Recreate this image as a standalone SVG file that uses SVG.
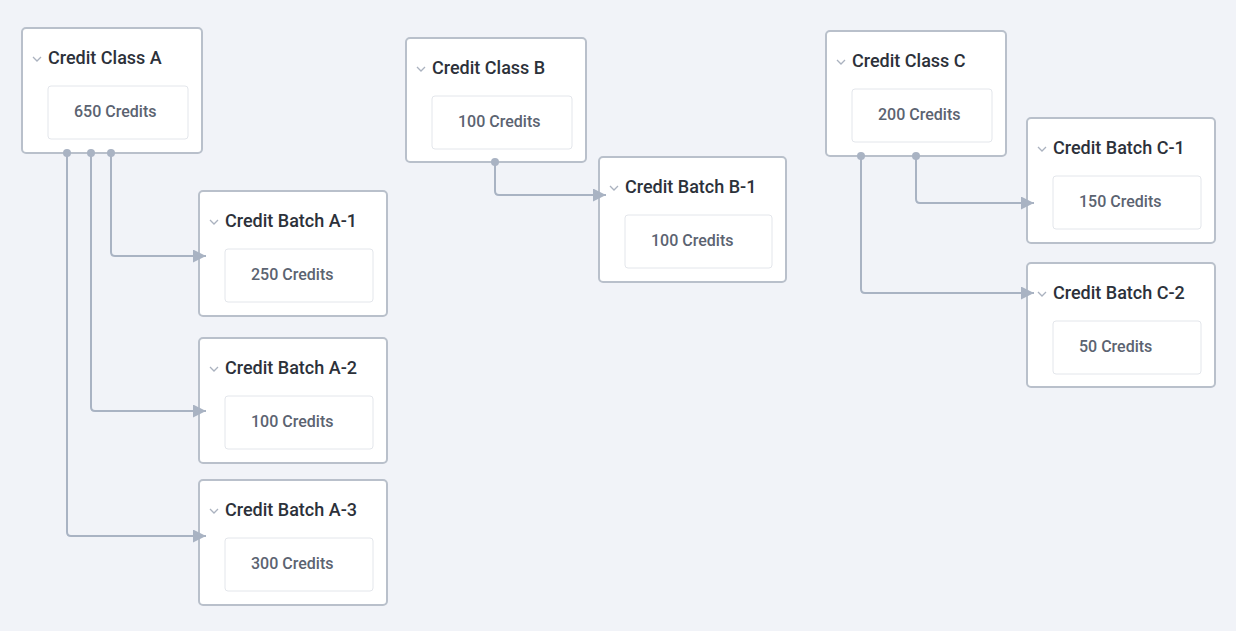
<svg xmlns="http://www.w3.org/2000/svg" width="1236" height="631" viewBox="0 0 1236 631">
<defs>
<style>
.card{fill:#ffffff;stroke:#b9c0cb;stroke-width:2}
.inner{fill:#ffffff;stroke:#e3e6eb;stroke-width:1}
.title{font-family:Roboto,"Liberation Sans",sans-serif;font-size:18px;font-weight:500;fill:#2c313a}
.val{font-family:Roboto,"Liberation Sans",sans-serif;font-size:16px;font-weight:500;fill:#5b6371}
.chev{fill:none;stroke:#aab2bf;stroke-width:1.3}
.edge{fill:none;stroke:#a9b3c3;stroke-width:2;stroke-linejoin:round}
.port{fill:#a9b3c3}
</style>
<marker id="arr" markerUnits="userSpaceOnUse" markerWidth="14" markerHeight="13" refX="13" refY="6.5" orient="auto">
<path d="M0,0 L13,6.5 L0,13 Z" fill="#a9b3c3"/>
</marker>
</defs>
<rect width="1236" height="631" fill="#f1f3f8"/>
<g id="class-a" transform="translate(22,28)">
<rect class="card" x="0" y="0" width="180" height="125" rx="4"/>
<polyline class="chev" points="11,29 15,33 19,29"/>
<text class="title" x="26" y="36">Credit Class A</text>
<rect class="inner" x="26" y="58" width="140" height="53" rx="3"/>
<text class="val" x="52" y="89">650 Credits</text>
</g>
<g id="batch-a1" transform="translate(199,191)">
<rect class="card" x="0" y="0" width="188" height="125" rx="4"/>
<polyline class="chev" points="11,29 15,33 19,29"/>
<text class="title" x="26" y="36">Credit Batch A-1</text>
<rect class="inner" x="26" y="58" width="148" height="53" rx="3"/>
<text class="val" x="52" y="89">250 Credits</text>
</g>
<g id="batch-a2" transform="translate(199,338)">
<rect class="card" x="0" y="0" width="188" height="125" rx="4"/>
<polyline class="chev" points="11,29 15,33 19,29"/>
<text class="title" x="26" y="36">Credit Batch A-2</text>
<rect class="inner" x="26" y="58" width="148" height="53" rx="3"/>
<text class="val" x="52" y="89">100 Credits</text>
</g>
<g id="batch-a3" transform="translate(199,480)">
<rect class="card" x="0" y="0" width="188" height="125" rx="4"/>
<polyline class="chev" points="11,29 15,33 19,29"/>
<text class="title" x="26" y="36">Credit Batch A-3</text>
<rect class="inner" x="26" y="58" width="148" height="53" rx="3"/>
<text class="val" x="52" y="89">300 Credits</text>
</g>
<g id="class-b" transform="translate(406,38)">
<rect class="card" x="0" y="0" width="180" height="124" rx="4"/>
<polyline class="chev" points="11,29 15,33 19,29"/>
<text class="title" x="26" y="36">Credit Class B</text>
<rect class="inner" x="26" y="58" width="140" height="53" rx="3"/>
<text class="val" x="52" y="89">100 Credits</text>
</g>
<g id="batch-b1" transform="translate(599,157)">
<rect class="card" x="0" y="0" width="187" height="125" rx="4"/>
<polyline class="chev" points="11,29 15,33 19,29"/>
<text class="title" x="26" y="36">Credit Batch B-1</text>
<rect class="inner" x="26" y="58" width="147" height="53" rx="3"/>
<text class="val" x="52" y="89">100 Credits</text>
</g>
<g id="class-c" transform="translate(826,31)">
<rect class="card" x="0" y="0" width="180" height="125" rx="4"/>
<polyline class="chev" points="11,29 15,33 19,29"/>
<text class="title" x="26" y="36">Credit Class C</text>
<rect class="inner" x="26" y="58" width="140" height="53" rx="3"/>
<text class="val" x="52" y="89">200 Credits</text>
</g>
<g id="batch-c1" transform="translate(1027,118)">
<rect class="card" x="0" y="0" width="188" height="125" rx="4"/>
<polyline class="chev" points="11,29 15,33 19,29"/>
<text class="title" x="26" y="36">Credit Batch C-1</text>
<rect class="inner" x="26" y="58" width="148" height="53" rx="3"/>
<text class="val" x="52" y="89">150 Credits</text>
</g>
<g id="batch-c2" transform="translate(1027,263)">
<rect class="card" x="0" y="0" width="188" height="124" rx="4"/>
<polyline class="chev" points="11,29 15,33 19,29"/>
<text class="title" x="26" y="36">Credit Batch C-2</text>
<rect class="inner" x="26" y="58" width="148" height="53" rx="3"/>
<text class="val" x="52" y="89">50 Credits</text>
</g>
<g id="connectors">
<path class="edge" d="M111,153 V252 Q111,256 115,256 H206" marker-end="url(#arr)"/>
<path class="edge" d="M91,153 V407 Q91,411 95,411 H206" marker-end="url(#arr)"/>
<path class="edge" d="M67,153 V532 Q67,536 71,536 H206" marker-end="url(#arr)"/>
<path class="edge" d="M495,162 V191 Q495,195 499,195 H606" marker-end="url(#arr)"/>
<path class="edge" d="M916,156 V199 Q916,203 920,203 H1034" marker-end="url(#arr)"/>
<path class="edge" d="M861,156 V289 Q861,293 865,293 H1034" marker-end="url(#arr)"/>
<circle class="port" cx="67" cy="153" r="4"/>
<circle class="port" cx="91" cy="153" r="4"/>
<circle class="port" cx="111" cy="153" r="4"/>
<circle class="port" cx="495" cy="162" r="4"/>
<circle class="port" cx="861" cy="156" r="4"/>
<circle class="port" cx="916" cy="156" r="4"/>
</g>
</svg>
